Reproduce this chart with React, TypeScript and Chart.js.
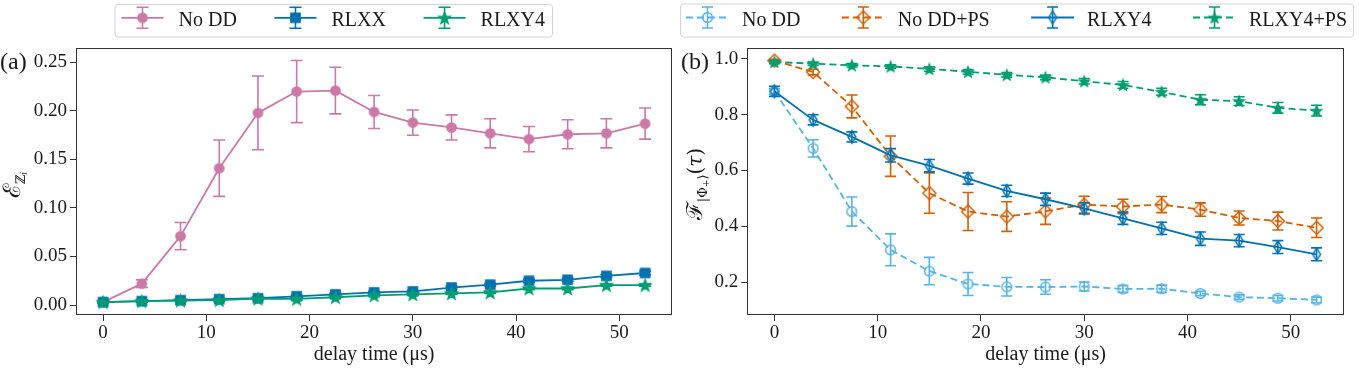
import React, { useEffect, useRef } from "react";
import { Chart, registerables } from "chart.js";

Chart.register(...registerables);

const SERIF = "'Liberation Serif', 'Times New Roman', serif";
const MATH = "'DejaVu Serif', 'Liberation Serif', serif";

// ---------------- data ----------------
const delayTimes = [0, 3.75, 7.5, 11.25, 15, 18.75, 22.5, 26.25, 30, 33.75, 37.5, 41.25, 45, 48.75, 52.5];
const xTicks = [0, 10, 20, 30, 40, 50];
const leftYTicks = [0, 0.05, 0.1, 0.15, 0.2, 0.25];
const rightYTicks = [0.2, 0.4, 0.6, 0.8, 1.0];

// panel (a): error metric
const noDdE = [0.003, 0.022, 0.071, 0.141, 0.198, 0.22, 0.221, 0.199, 0.188, 0.183, 0.177, 0.171, 0.176, 0.177, 0.187];
const noDdEErr = [0.001, 0.004, 0.014, 0.029, 0.038, 0.032, 0.024, 0.017, 0.013, 0.013, 0.015, 0.013, 0.015, 0.015, 0.016];
const rlxxE = [0.003, 0.004, 0.005, 0.006, 0.007, 0.009, 0.011, 0.013, 0.014, 0.018, 0.021, 0.025, 0.026, 0.03, 0.033];
const rlxxEErr = [0.001, 0.001, 0.001, 0.001, 0.001, 0.001, 0.001, 0.001, 0.001, 0.0015, 0.0015, 0.0015, 0.0015, 0.0015, 0.002];
const rlxy4E = [0.003, 0.004, 0.0045, 0.005, 0.0065, 0.0063, 0.008, 0.01, 0.011, 0.012, 0.013, 0.017, 0.017, 0.0205, 0.0205];
const rlxy4EErr = [0.001, 0.001, 0.001, 0.001, 0.001, 0.001, 0.001, 0.001, 0.001, 0.001, 0.001, 0.0012, 0.0012, 0.0012, 0.0012];

// panel (b): fidelity
const noDdF = [0.883, 0.679, 0.453, 0.316, 0.24, 0.194, 0.184, 0.183, 0.185, 0.176, 0.177, 0.16, 0.147, 0.143, 0.137];
const noDdFErr = [0.01, 0.031, 0.052, 0.057, 0.049, 0.041, 0.033, 0.026, 0.016, 0.012, 0.013, 0.008, 0.008, 0.01, 0.01];
const noDdPsF = [0.993, 0.952, 0.829, 0.651, 0.519, 0.453, 0.435, 0.454, 0.478, 0.471, 0.478, 0.46, 0.43, 0.419, 0.395];
const noDdPsFErr = [0.005, 0.01, 0.041, 0.072, 0.072, 0.068, 0.053, 0.047, 0.03, 0.026, 0.029, 0.024, 0.025, 0.032, 0.035];
const rlxy4F = [0.883, 0.781, 0.72, 0.654, 0.617, 0.571, 0.527, 0.497, 0.464, 0.429, 0.393, 0.356, 0.349, 0.326, 0.3];
const rlxy4FErr = [0.018, 0.018, 0.018, 0.024, 0.022, 0.02, 0.02, 0.022, 0.02, 0.022, 0.022, 0.024, 0.022, 0.023, 0.023];
const rlxy4PsF = [0.988, 0.982, 0.976, 0.972, 0.963, 0.953, 0.942, 0.933, 0.919, 0.906, 0.881, 0.853, 0.848, 0.824, 0.814];
const rlxy4PsFErr = [0.006, 0.006, 0.006, 0.006, 0.008, 0.008, 0.008, 0.008, 0.01, 0.012, 0.0125, 0.018, 0.0155, 0.019, 0.019];

// ---------------- styles ----------------
const PINK = "#CC79A7";
const BLUE = "#0072B2";
const GREEN = "#009E73";
const SKY = "#56B4E9";
const VERMILION = "#D55E00";
const TEXT = "#1a1a1a";
const AXIS = "#333333";

type Shape = "circle" | "square" | "diamond" | "thinDiamond" | "star";

interface SeriesSpec {
  label: string;
  values: number[];
  errors: number[];
  color: string;
  dash: number[];
  shape: Shape;
  r: number;
  filled: boolean;
  lineWidth: number;
  capHalf: number;
}

function traceShape(ctx: CanvasRenderingContext2D, shape: Shape, cx: number, cy: number, r: number) {
  ctx.beginPath();
  if (shape === "circle") {
    ctx.arc(cx, cy, r, 0, Math.PI * 2);
  } else if (shape === "square") {
    ctx.rect(cx - r, cy - r, 2 * r, 2 * r);
  } else if (shape === "diamond") {
    ctx.moveTo(cx, cy - r);
    ctx.lineTo(cx + r, cy);
    ctx.lineTo(cx, cy + r);
    ctx.lineTo(cx - r, cy);
    ctx.closePath();
  } else if (shape === "thinDiamond") {
    const w = r * 0.62;
    ctx.moveTo(cx, cy - r);
    ctx.lineTo(cx + w, cy);
    ctx.lineTo(cx, cy + r);
    ctx.lineTo(cx - w, cy);
    ctx.closePath();
  } else {
    const inner = r * 0.42;
    for (let k = 0; k < 10; k++) {
      const rr = k % 2 === 0 ? r : inner;
      const a = -Math.PI / 2 + (k * Math.PI) / 5;
      const px = cx + rr * Math.cos(a);
      const py = cy + rr * Math.sin(a) + r * 0.1;
      if (k === 0) ctx.moveTo(px, py);
      else ctx.lineTo(px, py);
    }
    ctx.closePath();
  }
}

function markerImage(shape: Shape, color: string, r: number, filled: boolean): HTMLCanvasElement {
  const lw = 1.5;
  const size = Math.ceil(2 * r + 2 * lw + 2);
  const c = document.createElement("canvas");
  c.width = size;
  c.height = size;
  const ctx = c.getContext("2d")!;
  traceShape(ctx, shape, size / 2, size / 2, r);
  if (filled) {
    ctx.fillStyle = color;
    ctx.fill();
  }
  ctx.lineWidth = lw;
  ctx.lineJoin = "miter";
  ctx.strokeStyle = color;
  ctx.stroke();
  return c;
}

const leftSeries: SeriesSpec[] = [
  { label: "No DD", values: noDdE, errors: noDdEErr, color: PINK, dash: [], shape: "circle", r: 4.6, filled: true, lineWidth: 1.8, capHalf: 6 },
  { label: "RLXX", values: rlxxE, errors: rlxxEErr, color: BLUE, dash: [], shape: "square", r: 4.6, filled: true, lineWidth: 1.8, capHalf: 6 },
  { label: "RLXY4", values: rlxy4E, errors: rlxy4EErr, color: GREEN, dash: [], shape: "star", r: 6, filled: true, lineWidth: 1.8, capHalf: 6 },
];

const rightSeries: SeriesSpec[] = [
  { label: "No DD", values: noDdF, errors: noDdFErr, color: SKY, dash: [7, 4], shape: "circle", r: 4.8, filled: false, lineWidth: 1.8, capHalf: 5.5 },
  { label: "No DD+PS", values: noDdPsF, errors: noDdPsFErr, color: VERMILION, dash: [7, 4], shape: "diamond", r: 6.5, filled: false, lineWidth: 1.8, capHalf: 5.5 },
  { label: "RLXY4", values: rlxy4F, errors: rlxy4FErr, color: BLUE, dash: [], shape: "thinDiamond", r: 6.3, filled: false, lineWidth: 1.8, capHalf: 5.5 },
  { label: "RLXY4+PS", values: rlxy4PsF, errors: rlxy4PsFErr, color: GREEN, dash: [7, 4], shape: "star", r: 5.3, filled: true, lineWidth: 1.8, capHalf: 5.5 },
];

function makeDatasets(series: SeriesSpec[]) {
  const n = series.length;
  return series.map((s, i) => {
    const img = markerImage(s.shape, s.color, s.r, s.filled);
    return {
      label: s.label,
      data: delayTimes.map((t, j) => ({ x: t, y: s.values[j] })),
      errors: s.errors,
      capHalf: s.capHalf,
      markerImg: img,
      borderColor: s.color,
      backgroundColor: s.color,
      borderWidth: s.lineWidth,
      borderDash: s.dash,
      borderJoinStyle: "round",
      pointStyle: img,
      pointRadius: s.r,
      pointHoverRadius: s.r,
      tension: 0,
      fill: false,
      order: n - i,
    };
  });
}

// ---------------- plugins ----------------
const errorBarPlugin = {
  id: "errorBars",
  beforeDatasetDraw(chart: any, args: any) {
    const ds = chart.data.datasets[args.index];
    if (!ds || !ds.errors) return;
    const ys = chart.scales.y;
    const ctx = chart.ctx as CanvasRenderingContext2D;
    ctx.save();
    ctx.strokeStyle = ds.borderColor;
    ctx.lineWidth = 1.6;
    ctx.setLineDash([]);
    args.meta.data.forEach((pt: any, j: number) => {
      const v = ds.data[j].y;
      const e = ds.errors[j];
      const top = ys.getPixelForValue(v + e);
      const bot = ys.getPixelForValue(v - e);
      const c = ds.capHalf;
      ctx.beginPath();
      ctx.moveTo(pt.x, top);
      ctx.lineTo(pt.x, bot);
      ctx.moveTo(pt.x - c, top);
      ctx.lineTo(pt.x + c, top);
      ctx.moveTo(pt.x - c, bot);
      ctx.lineTo(pt.x + c, bot);
      ctx.stroke();
    });
    ctx.restore();
  },
};

interface Seg {
  text: string;
  size: number;
  dy: number;
  italic?: boolean;
  family?: string;
}

interface LegendSpec {
  left: number;
  right: number;
  top: number;
  bottom: number;
  handleY: number;
  textBaseline: number;
  errHalf: number;
  capHalf: number;
  pad: number;
  handleW: number;
  gapHT: number;
  fontSize: number;
}

interface DecorSpec {
  panelLabel: string;
  panelX: number;
  panelBaseline: number;
  yTitle: Seg[];
  yTitleBaselineX: number;
  yTitleCenterY: number;
  legend: LegendSpec;
}

function roundRect(ctx: CanvasRenderingContext2D, x: number, y: number, w: number, h: number, r: number) {
  ctx.beginPath();
  ctx.moveTo(x + r, y);
  ctx.lineTo(x + w - r, y);
  ctx.arcTo(x + w, y, x + w, y + r, r);
  ctx.lineTo(x + w, y + h - r);
  ctx.arcTo(x + w, y + h, x + w - r, y + h, r);
  ctx.lineTo(x + r, y + h);
  ctx.arcTo(x, y + h, x, y + h - r, r);
  ctx.lineTo(x, y + r);
  ctx.arcTo(x, y, x + r, y, r);
  ctx.closePath();
}

function makeDecorPlugin(spec: DecorSpec) {
  return {
    id: "decor",
    afterDatasetsDraw(chart: any) {
      const ctx = chart.ctx as CanvasRenderingContext2D;
      const a = chart.chartArea;
      ctx.save();
      ctx.strokeStyle = AXIS;
      ctx.lineWidth = 1;
      ctx.setLineDash([]);
      const l = Math.round(a.left) + 0.5;
      const t = Math.round(a.top) + 0.5;
      const r = Math.round(a.right) - 0.5;
      const b = Math.round(a.bottom) - 0.5;
      ctx.strokeRect(l, t, r - l, b - t);
      ctx.restore();
    },
    afterDraw(chart: any) {
      const ctx = chart.ctx as CanvasRenderingContext2D;
      ctx.save();
      // panel label
      ctx.fillStyle = TEXT;
      ctx.font = `24px ${SERIF}`;
      ctx.textAlign = "left";
      ctx.textBaseline = "alphabetic";
      ctx.fillText(spec.panelLabel, spec.panelX, spec.panelBaseline);

      // rotated y title
      const fontOf = (s: Seg) => `${s.italic ? "italic " : ""}${s.size}px ${s.family || MATH}`;
      let total = 0;
      const widths = spec.yTitle.map((s) => {
        ctx.font = fontOf(s);
        const w = ctx.measureText(s.text).width;
        total += w;
        return w;
      });
      ctx.translate(spec.yTitleBaselineX, spec.yTitleCenterY);
      ctx.rotate(-Math.PI / 2);
      let x = -total / 2;
      spec.yTitle.forEach((s, i) => {
        ctx.font = fontOf(s);
        ctx.fillText(s.text, x, s.dy);
        x += widths[i];
      });
      ctx.setTransform(1, 0, 0, 1, 0, 0);

      // legend
      const L = spec.legend;
      const ds = chart.data.datasets;
      ctx.font = `${L.fontSize}px ${SERIF}`;
      const tw = ds.map((d: any) => ctx.measureText(d.label).width);
      const content = tw.reduce((acc: number, w: number) => acc + L.handleW + L.gapHT + w, 0);
      const gap = (L.right - L.left - 2 * L.pad - content) / (ds.length - 1);
      roundRect(ctx, L.left + 0.5, L.top + 0.5, L.right - L.left, L.bottom - L.top, 3);
      ctx.fillStyle = "rgba(255,255,255,0.85)";
      ctx.fill();
      ctx.strokeStyle = "#d4d4d4";
      ctx.lineWidth = 1;
      ctx.stroke();
      let lx = L.left + L.pad;
      ds.forEach((d: any, i: number) => {
        const cy = L.handleY;
        ctx.strokeStyle = d.borderColor;
        ctx.lineWidth = d.borderWidth;
        ctx.setLineDash(d.borderDash || []);
        ctx.beginPath();
        ctx.moveTo(lx, cy);
        ctx.lineTo(lx + L.handleW, cy);
        ctx.stroke();
        ctx.setLineDash([]);
        const mx = lx + L.handleW / 2;
        ctx.lineWidth = 1.6;
        ctx.beginPath();
        ctx.moveTo(mx, cy - L.errHalf);
        ctx.lineTo(mx, cy + L.errHalf);
        ctx.moveTo(mx - L.capHalf, cy - L.errHalf);
        ctx.lineTo(mx + L.capHalf, cy - L.errHalf);
        ctx.moveTo(mx - L.capHalf, cy + L.errHalf);
        ctx.lineTo(mx + L.capHalf, cy + L.errHalf);
        ctx.stroke();
        const img = d.markerImg as HTMLCanvasElement;
        ctx.drawImage(img, mx - img.width / 2, cy - img.height / 2);
        ctx.fillStyle = TEXT;
        ctx.font = `${L.fontSize}px ${SERIF}`;
        ctx.textAlign = "left";
        ctx.textBaseline = "alphabetic";
        ctx.fillText(d.label, lx + L.handleW + L.gapHT, L.textBaseline);
        lx += L.handleW + L.gapHT + tw[i] + gap;
      });
      ctx.restore();
    },
  };
}

// ---------------- chart configs ----------------
interface PanelSpec {
  series: SeriesSpec[];
  yMin: number;
  yMax: number;
  yTicks: number[];
  yDecimals: number;
  yAxisWidth: number;
  padRight: number;
  decor: DecorSpec;
}

const AREA_TOP = 48;
const AREA_BOTTOM = 315;
const CANVAS_H = 370;

function buildConfig(p: PanelSpec): any {
  const tickFont = { family: SERIF, size: 19 };
  const grid = {
    display: true,
    drawOnChartArea: false,
    drawTicks: true,
    tickLength: 6,
    tickColor: AXIS,
    tickWidth: 1,
  };
  return {
    type: "line",
    data: { datasets: makeDatasets(p.series) },
    options: {
      responsive: false,
      animation: false,
      events: [],
      layout: { padding: { top: AREA_TOP, left: 0, right: p.padRight, bottom: 0 } },
      plugins: {
        legend: { display: false },
        tooltip: { enabled: false },
        title: { display: false },
      },
      scales: {
        x: {
          type: "linear",
          min: -2.625,
          max: 55.125,
          afterFit: (s: any) => {
            s.height = CANVAS_H - AREA_BOTTOM;
          },
          afterBuildTicks: (s: any) => {
            s.ticks = xTicks.map((v) => ({ value: v }));
          },
          ticks: {
            font: tickFont,
            color: TEXT,
            padding: 1,
            autoSkip: false,
            maxRotation: 0,
            callback: (v: any) => String(v),
          },
          grid,
          border: { display: false },
          title: {
            display: true,
            text: "delay time (μs)",
            font: { family: SERIF, size: 20 },
            color: TEXT,
            padding: { top: 0, bottom: 3 },
          },
        },
        y: {
          type: "linear",
          min: p.yMin,
          max: p.yMax,
          afterFit: (s: any) => {
            s.width = p.yAxisWidth;
          },
          afterBuildTicks: (s: any) => {
            s.ticks = p.yTicks.map((v) => ({ value: v }));
          },
          ticks: {
            font: tickFont,
            color: TEXT,
            padding: 3,
            autoSkip: false,
            callback: (v: any) => Number(v).toFixed(p.yDecimals),
          },
          grid,
          border: { display: false },
        },
      },
    },
    plugins: [errorBarPlugin, makeDecorPlugin(p.decor)],
  };
}

const leftPanel: PanelSpec = {
  series: leftSeries,
  yMin: -0.0103,
  yMax: 0.2649,
  yTicks: leftYTicks,
  yDecimals: 2,
  yAxisWidth: 76,
  padRight: 7.5,
  decor: {
    panelLabel: "(a)",
    panelX: 0,
    panelBaseline: 69,
    yTitle: [
      { text: "ℰ", size: 24, dy: 0 },
      { text: "ℤ", size: 13, dy: 5 },
      { text: "i", size: 9, dy: 7, italic: true },
    ],
    yTitleBaselineX: 20,
    yTitleCenterY: 185,
    legend: {
      left: 114.5,
      right: 552,
      top: 4,
      bottom: 36.5,
      handleY: 17.8,
      textBaseline: 26,
      errHalf: 10.5,
      capHalf: 6,
      pad: 7,
      handleW: 42,
      gapHT: 15,
      fontSize: 20,
    },
  },
};

const rightPanel: PanelSpec = {
  series: rightSeries,
  yMin: 0.083,
  yMax: 1.038,
  yTicks: rightYTicks,
  yDecimals: 1,
  yAxisWidth: 67.3,
  padRight: 15.3,
  decor: {
    panelLabel: "(b)",
    panelX: 1,
    panelBaseline: 68.5,
    yTitle: [
      { text: "ℱ", size: 22, dy: 0 },
      { text: "|Φ", size: 13, dy: 5 },
      { text: "+", size: 9, dy: 7 },
      { text: "⟩", size: 13, dy: 5 },
      { text: "(", size: 20, dy: 0 },
      { text: "τ", size: 20, dy: 0, italic: true },
      { text: ")", size: 20, dy: 0 },
    ],
    yTitleBaselineX: 22,
    yTitleCenterY: 184,
    legend: {
      left: 0,
      right: 673,
      top: 3.5,
      bottom: 36.5,
      handleY: 17.5,
      textBaseline: 26,
      errHalf: 10.5,
      capHalf: 5.5,
      pad: 6,
      handleW: 43,
      gapHT: 13,
      fontSize: 20,
    },
  },
};

export default function App() {
  const refA = useRef<HTMLCanvasElement>(null);
  const refB = useRef<HTMLCanvasElement>(null);

  useEffect(() => {
    const a = new Chart(refA.current!, buildConfig(leftPanel));
    const b = new Chart(refB.current!, buildConfig(rightPanel));
    return () => {
      a.destroy();
      b.destroy();
    };
  }, []);

  return (
    <div style={{ position: "absolute", left: 0, top: 0, width: 1359, height: 370, background: "#ffffff" }}>
      <canvas
        ref={refA}
        width={680}
        height={370}
        style={{ position: "absolute", left: 0, top: 0, width: 680, height: 370 }}
      />
      <canvas
        ref={refB}
        width={679}
        height={370}
        style={{ position: "absolute", left: 680, top: 0, width: 679, height: 370 }}
      />
    </div>
  );
}
